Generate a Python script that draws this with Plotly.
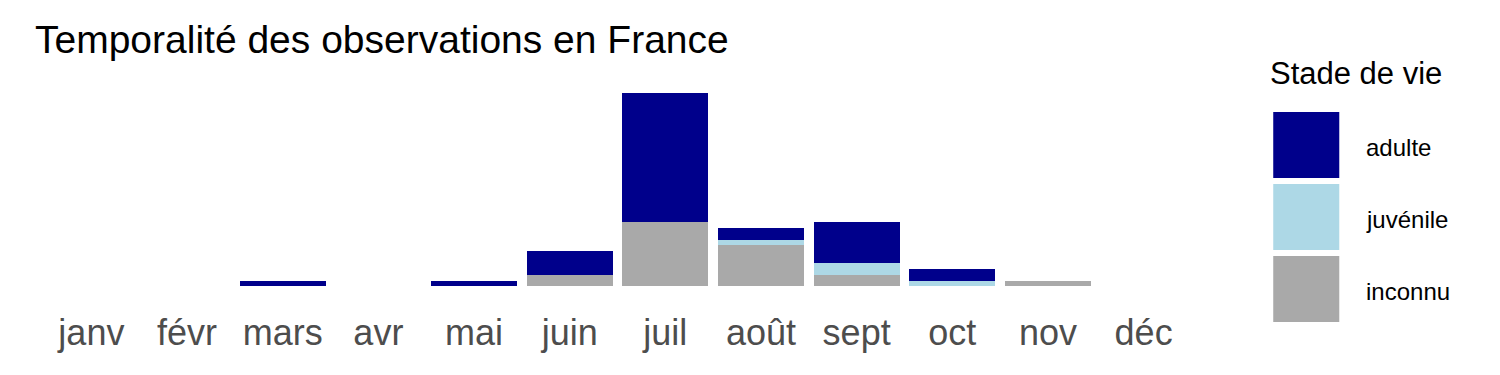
import plotly.graph_objects as go

months = ["janv", "févr", "mars", "avr", "mai", "juin", "juil", "août", "sept", "oct", "nov", "déc"]
adulte = [0, 0, 1, 0, 1, 5, 26.7, 2.5, 8.5, 2.5, 0, 0]
juvenile = [0, 0, 0, 0, 0, 0, 0, 1, 2.5, 1, 0, 0]
inconnu = [0, 0, 0, 0, 0, 2.3, 13.3, 8.5, 2.3, 0, 1, 0]

series_names = ["adulte", "juvénile", "inconnu"]
series_colors = ["#00008B", "#ADD8E6", "#A9A9A9"]
series_values = [adulte, juvenile, inconnu]

W, H = 1500, 375
FONT = "Liberation Sans, Arial, sans-serif"

fig = go.Figure()
# bottom to top: inconnu, juvénile, adulte
for name, color, vals in reversed(list(zip(series_names, series_colors, series_values))):
    fig.add_trace(go.Bar(x=months, y=vals, name=name, marker=dict(color=color, line=dict(width=0)),
                         showlegend=False))

ymax = max(a + b + c for a, b, c in zip(adulte, juvenile, inconnu))

plot_left, plot_right = 34.4, 1200.8
plot_top, plot_bottom = 93, 286

fig.update_layout(
    width=W, height=H,
    margin=dict(l=plot_left, r=W - plot_right, t=plot_top, b=H - plot_bottom, pad=0),
    barmode="stack", bargap=0.1,
    plot_bgcolor="white", paper_bgcolor="white",
    font=dict(family=FONT),
    title=dict(text="Temporalité des observations en France", x=35 / W, xanchor="left",
               xref="container", yref="container", y=1 - 39 / H, yanchor="middle",
               font=dict(size=39, color="black", family=FONT)),
    xaxis=dict(type="category", range=[-0.6, len(months) - 0.4], showgrid=False, zeroline=False,
               showline=False, ticks="", tickfont=dict(size=36, color="#4D4D4D", family=FONT),
               ticklabelstandoff=22),
    yaxis=dict(range=[0, ymax], visible=False, showgrid=False, zeroline=False),
)

# manual legend, pixel coordinates converted to paper coords
def px_x(x):
    return (x - plot_left) / (plot_right - plot_left)

def px_y(y):
    return (plot_bottom - y) / (plot_bottom - plot_top)

key_top = 112
for i, (name, color) in enumerate(zip(series_names, series_colors)):
    t = key_top + i * 72
    fig.add_shape(type="rect", xref="paper", yref="paper",
                  x0=px_x(1273), x1=px_x(1339), y0=px_y(t + 66), y1=px_y(t),
                  fillcolor=color, line=dict(width=0))
    fig.add_annotation(text=name, x=px_x(1364), y=px_y(t + 35), xref="paper", yref="paper",
                       xanchor="left", yanchor="middle", showarrow=False,
                       font=dict(size=24, color="black", family=FONT))
fig.add_annotation(text="Stade de vie", x=px_x(1268), y=px_y(73), xref="paper", yref="paper",
                   xanchor="left", yanchor="middle", showarrow=False,
                   font=dict(size=31, color="black", family=FONT))

fig.write_html("out.html")
